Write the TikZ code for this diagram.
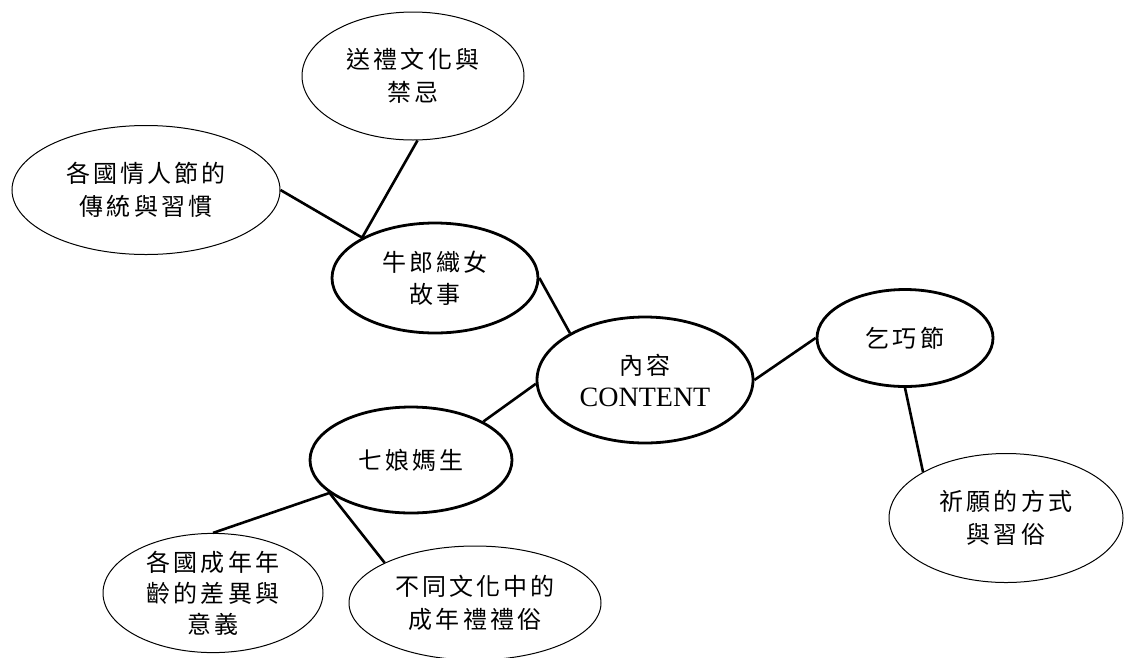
\documentclass[tikz,border=0pt]{standalone}
\usepackage{fontspec}
\setmainfont{Liberation Serif}
\newfontfamily\cjk[LetterSpace=13]{Noto Sans CJK TC}
\usetikzlibrary{shapes.geometric}

\begin{document}
\begin{tikzpicture}[x=1pt,y=-1pt,
    mainoval/.style={ellipse, draw, line width=2.8pt, inner sep=0pt, align=center,
      font=\cjk\fontsize{24}{32}\selectfont},
    suboval/.style={ellipse, draw, line width=1pt, inner sep=0pt, align=center,
      font=\cjk\fontsize{24}{33}\selectfont},
    link/.style={line width=2.6pt}]
  \useasboundingbox (0,0) rectangle (1124,657);

  % centre and first ring
  \node [mainoval, minimum width=216pt, minimum height=126pt] (content) at (645,380)
    {內容\\{\rmfamily\fontsize{28}{32}\selectfont CONTENT}};
  \node [mainoval, minimum width=206pt, minimum height=110pt] (niulang) at (435,278) {牛郎織女\\故事};
  \node [mainoval, minimum width=202pt, minimum height=106pt] (qiniang) at (411,460) {七娘媽生};
  \node [mainoval, minimum width=176pt, minimum height=97pt] (qiqiao) at (905,338) {乞巧節};

  % outer ring
  \node [suboval, minimum width=222pt, minimum height=128pt] (giftcustom) at (413,76) {送禮文化與\\禁忌};
  \node [suboval, minimum width=268pt, minimum height=129pt] (valentine) at (146,190) {各國情人節的\\傳統與習慣};
  \node [suboval, minimum width=220pt, minimum height=116pt,
    font=\cjk\fontsize{24}{31}\selectfont] (agediff) at (213,593) {各國成年年\\齡的差異與\\意義};
  \node [suboval, minimum width=252pt, minimum height=114pt] (rites) at (475,603) {不同文化中的\\成年禮禮俗};
  \node [suboval, minimum width=234pt, minimum height=129pt] (wishing) at (1006,518) {祈願的方式\\與習俗};

  \draw [link] (niulang.east) -- (content.148);
  \draw [link] (qiniang.28) -- (content.182);
  \draw [link] (content.east) -- (qiqiao.west);

  \draw [link] (valentine.east) -- (niulang.151) -- (giftcustom.274);
  \draw [link] (agediff.north) -- (qiniang.202) -- (rites.156);
  \draw [link] (qiqiao.south) -- (wishing.151);
\end{tikzpicture}
\end{document}
